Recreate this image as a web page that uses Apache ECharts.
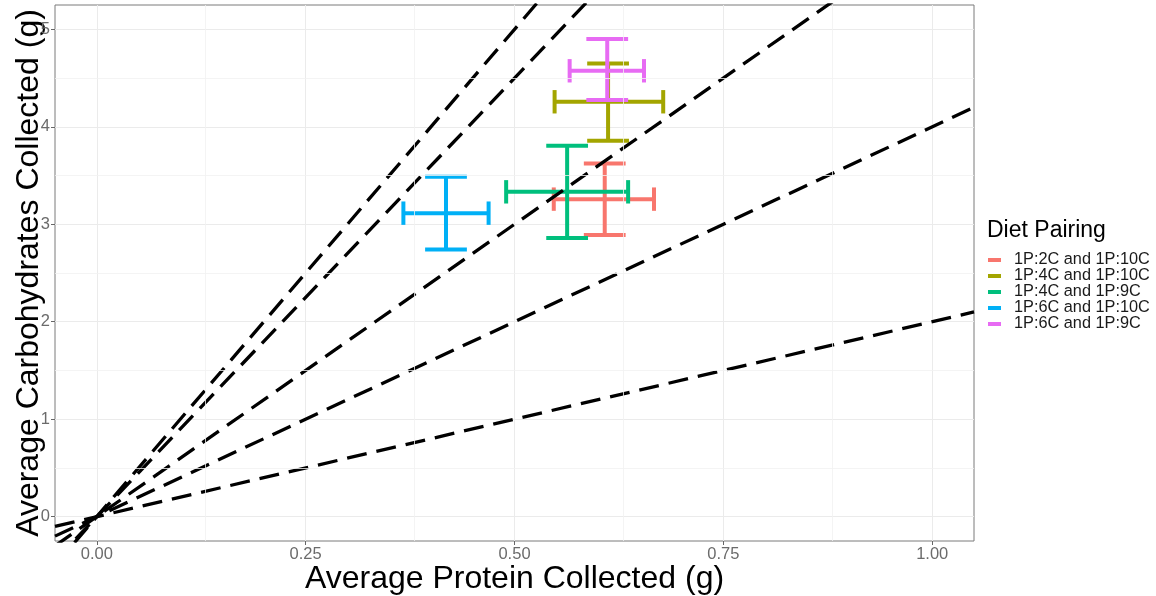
<!DOCTYPE html>
<html>
<head>
<meta charset="utf-8">
<script src="https://cdn.jsdelivr.net/npm/echarts@6/dist/echarts.min.js"></script>
<style>
  html, body { margin: 0; padding: 0; background: #ffffff; }
  #chart { width: 1156px; height: 596px; }
</style>
</head>
<body>
<div id="chart"></div>
<script>
// Diet pairings and their mean intake with error ranges
const groups = ['1P:2C and 1P:10C', '1P:4C and 1P:10C', '1P:4C and 1P:9C', '1P:6C and 1P:10C', '1P:6C and 1P:9C'];
const groupColors = ['#F8766D', '#A3A500', '#00BF7D', '#00B0F6', '#E76BF3'];
const proteinMean = [0.608, 0.612, 0.563, 0.418, 0.611];
const proteinLow  = [0.547, 0.548, 0.490, 0.367, 0.566];
const proteinHigh = [0.667, 0.678, 0.636, 0.469, 0.655];
const carbMean = [3.258, 4.257, 3.333, 3.114, 4.575];
const carbLow  = [2.891, 3.856, 2.860, 2.741, 4.275];
const carbHigh = [3.624, 4.651, 3.805, 3.487, 4.900];

// Carbohydrate:protein ratio reference lines through the origin
const ratioSlopes = [2, 4, 6, 9, 10];

// Axis ranges and ticks
const xRange = [-0.05, 1.05];
const yRange = [-0.25, 5.25];
const xTicks = [0, 0.25, 0.5, 0.75, 1];
const xTickLabels = ['0.00', '0.25', '0.50', '0.75', '1.00'];
const yTicks = [0, 1, 2, 3, 4, 5];
const yTickLabels = ['0', '1', '2', '3', '4', '5'];
const xMinorTicks = [0.125, 0.375, 0.625, 0.875];
const yMinorTicks = [0.5, 1.5, 2.5, 3.5, 4.5];

const FONT = "'Liberation Sans', Arial, sans-serif";
const CAP_W = 0.05;   // width of the vertical bar caps (protein units)
const CAP_H = 0.24;   // height of the horizontal bar caps (carbohydrate units)

function errorCross(params, api) {
  const x = api.value(0), y = api.value(1);
  const x0 = api.value(2), x1 = api.value(3);
  const y0 = api.value(4), y1 = api.value(5);
  const color = api.visual('color');
  const c = (a, b) => api.coord([a, b]);
  const segs = [
    [c(x, y0), c(x, y1)],
    [c(x - CAP_W / 2, y0), c(x + CAP_W / 2, y0)],
    [c(x - CAP_W / 2, y1), c(x + CAP_W / 2, y1)],
    [c(x0, y), c(x1, y)],
    [c(x0, y - CAP_H / 2), c(x0, y + CAP_H / 2)],
    [c(x1, y - CAP_H / 2), c(x1, y + CAP_H / 2)]
  ];
  return {
    type: 'group',
    children: segs.map(s => ({
      type: 'line',
      shape: { x1: s[0][0], y1: s[0][1], x2: s[1][0], y2: s[1][1] },
      style: { stroke: color, lineWidth: 4, lineCap: 'butt' }
    }))
  };
}

const series = [];

// light minor grid lines
series.push({
  type: 'line',
  data: [],
  silent: true,
  z: 1,
  markLine: {
    silent: true,
    symbol: 'none',
    label: { show: false },
    lineStyle: { type: 'solid', color: '#F1F1F1', width: 0.8 },
    data: xMinorTicks.map(v => ({ xAxis: v })).concat(yMinorTicks.map(v => ({ yAxis: v })))
  }
});

groups.forEach((g, i) => {
  series.push({
    name: g,
    type: 'custom',
    renderItem: errorCross,
    itemStyle: { color: groupColors[i] },
    z: 2,
    data: [[proteinMean[i], carbMean[i], proteinLow[i], proteinHigh[i], carbLow[i], carbHigh[i]]]
  });
});

ratioSlopes.forEach(s => {
  series.push({
    type: 'line',
    silent: true,
    showSymbol: false,
    clip: true,
    z: 3,
    lineStyle: { color: '#000000', width: 3.3, type: [20, 10], cap: 'butt' },
    data: [[xRange[0], xRange[0] * s], [xRange[1], xRange[1] * s]]
  });
});

const chart = echarts.init(document.getElementById('chart'));
chart.setOption({
  animation: false,
  backgroundColor: '#ffffff',
  grid: {
    left: 55, right: 182, top: 5, bottom: 55,
    containLabel: false,
    outerBoundsMode: 'none',
    show: true,
    borderColor: '#7a7a7a',
    borderWidth: 1,
    backgroundColor: 'transparent'
  },
  xAxis: {
    type: 'value',
    min: xRange[0], max: xRange[1],
    name: 'Average Protein Collected (g)',
    nameLocation: 'middle',
    nameGap: 22,
    nameMoveOverlap: false,
    nameTextStyle: { fontFamily: FONT, fontSize: 32, color: '#000000' },
    axisLine: { show: false, onZero: false },
    axisTick: { show: true, inside: false, length: 4, lineStyle: { color: '#666666' }, customValues: xTicks },
    axisLabel: {
      fontFamily: FONT, fontSize: 16.5, color: '#6b6b6b', margin: 5,
      customValues: xTicks,
      formatter: v => xTickLabels[xTicks.findIndex(t => Math.abs(t - v) < 1e-9)]
    },
    splitLine: { show: true, lineStyle: { color: '#EBEBEB', width: 1 } }
  },
  yAxis: {
    type: 'value',
    min: yRange[0], max: yRange[1],
    name: 'Average Carbohydrates Collected (g)',
    nameLocation: 'middle',
    nameGap: 10,
    nameMoveOverlap: false,
    nameTextStyle: { fontFamily: FONT, fontSize: 32, color: '#000000' },
    axisLine: { show: false, onZero: false },
    axisTick: { show: true, inside: false, length: 4, lineStyle: { color: '#666666' }, customValues: yTicks },
    axisLabel: {
      fontFamily: FONT, fontSize: 16.5, color: '#6b6b6b', margin: 5,
      customValues: yTicks,
      formatter: v => yTickLabels[yTicks.findIndex(t => Math.abs(t - v) < 1e-9)]
    },
    splitLine: { show: true, lineStyle: { color: '#EBEBEB', width: 1 } }
  },
  legend: {
    orient: 'vertical',
    left: 988,
    top: 252,
    padding: 0,
    itemGap: 0,
    itemWidth: 13,
    itemHeight: 4,
    selectedMode: false,
    data: groups.map(g => ({ name: g, icon: 'rect' })),
    textStyle: { fontFamily: FONT, fontSize: 16.3, lineHeight: 15.6, color: '#1a1a1a', padding: [0, 0, 0, 8] }
  },
  graphic: [{
    type: 'text',
    left: 987,
    top: 219,
    style: { text: 'Diet Pairing', fontFamily: FONT, fontSize: 23, fill: '#000000' }
  }],
  series: series
});
</script>
</body>
</html>
